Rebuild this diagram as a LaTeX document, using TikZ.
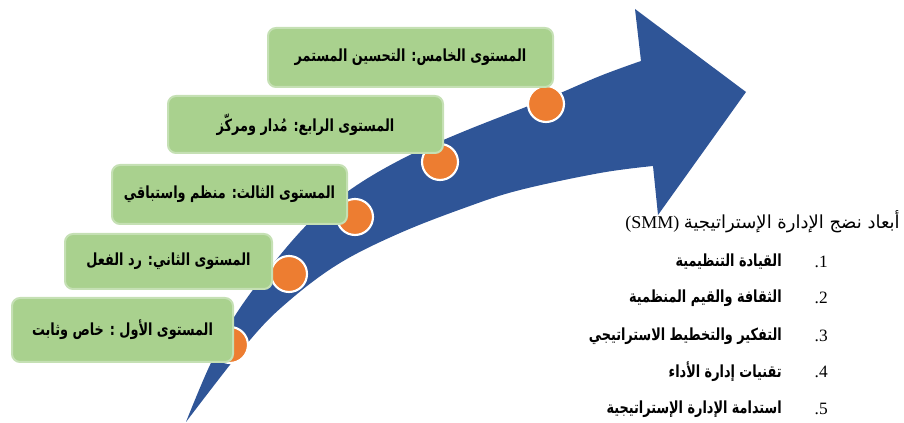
\documentclass[tikz,border=0pt]{standalone}
\usepackage{fontspec}
\setmainfont{Liberation Serif}
\newfontfamily\arabicfont[Script=Arabic, FakeStretch=0.77]{DejaVu Sans}
\newfontfamily\arabicwide[Script=Arabic]{DejaVu Sans}
\TeXXeTstate=1
\definecolor{arrowblue}{HTML}{2F5597}
\definecolor{dotorange}{HTML}{ED7D31}
\definecolor{boxgreen}{HTML}{A9D18E}
\definecolor{boxedge}{HTML}{C5E0B4}
\tikzset{
  levelbox/.style={draw=boxedge, fill=boxgreen, line width=1.5pt, rounded corners=6pt,
    inner sep=0pt, font=\arabicfont\bfseries\fontsize{12.5}{14}\selectfont},
  stagedot/.style={circle, draw=white, fill=dotorange, line width=1.6pt, minimum size=27pt, inner sep=0pt},
  listnum/.style={anchor=east, inner sep=0pt, font=\fontsize{13}{15}\selectfont},
  listitem/.style={anchor=east, inner sep=0pt, font=\arabicfont\bfseries\fontsize{12.5}{14}\selectfont},
  listtitle/.style={anchor=east, inner sep=0pt, font=\fontsize{13.5}{15}\selectfont}
}
\begin{document}
\begin{tikzpicture}[x=0.75pt,y=-0.75pt]
\useasboundingbox (0,0) rectangle (904,423);
% arrow
\fill[arrowblue] plot[smooth, tension=0.6] coordinates {(186,422) (210,365) (240,308) (300,232) (347,192) (400,160) (460,133) (546,99) (600,76) (641,61)}
  -- (635,9) -- (746,92) -- (658,215) -- (653,166)
  -- plot[smooth, tension=0.6] coordinates {(653,166) (600,173) (520,190) (467,207) (400,233) (340,263) (290,300) (250,340) (186,422)}
  -- cycle;
% dots
\node[stagedot] (d1) at (230,345) {};
\node[stagedot] (d2) at (289,274) {};
\node[stagedot] (d3) at (355,217) {};
\node[stagedot] (d4) at (440,162) {};
\node[stagedot] (d5) at (546,104) {};
% boxes
\node[levelbox, minimum width=213.75pt, minimum height=44.25pt] (b5) at (410.5,57.5) {\beginR المستوى الخامس: التحسين المستمر\endR};
\node[levelbox, minimum width=206.25pt, minimum height=42.75pt] (b4) at (305.5,124.5) {\beginR المستوى الرابع: مُدار ومركّز\endR};
\node[levelbox, minimum width=176.25pt, minimum height=44.25pt] (b3) at (229.5,194.5) {\beginR المستوى الثالث: منظم واستباقي\endR};
\node[levelbox, minimum width=155.25pt, minimum height=41.25pt] (b2) at (168.5,261.5) {\beginR المستوى الثاني: رد الفعل\endR};
\node[levelbox, minimum width=165.75pt, minimum height=48pt] (b1) at (122.5,330) {\beginR المستوى الأول : خاص وثابت\endR};
% list
\node[listtitle] (title) at (900,222) {(SMM) {\arabicwide\fontsize{13.5}{15}\selectfont\beginR أبعاد نضج الإدارة الإستراتيجية\endR}};
\node[listnum] (n1) at (828,262) {.1};
\node[listnum] (n2) at (828,298) {.2};
\node[listnum] (n3) at (828,336) {.3};
\node[listnum] (n4) at (828,372) {.4};
\node[listnum] (n5) at (828,409) {.5};
\node[listitem] (i1) at (782,262) {\beginR القيادة التنظيمية\endR};
\node[listitem] (i2) at (782,298) {\beginR الثقافة والقيم المنظمية\endR};
\node[listitem] (i3) at (782,336) {\beginR التفكير والتخطيط الاستراتيجي\endR};
\node[listitem] (i4) at (782,372) {\beginR تقنيات إدارة الأداء\endR};
\node[listitem] (i5) at (782,409) {\beginR استدامة الإدارة الإستراتيجية\endR};
\end{tikzpicture}
\end{document}
